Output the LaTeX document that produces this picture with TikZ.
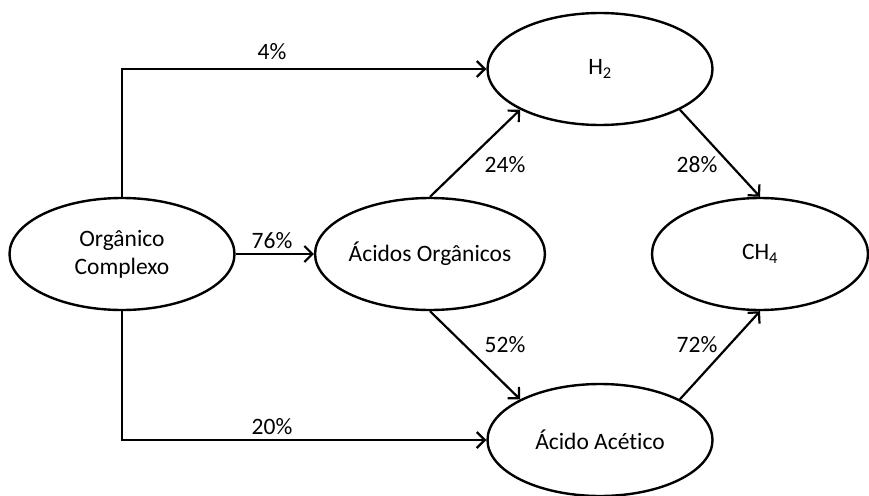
\documentclass[tikz,border=0pt]{standalone}
\usepackage{fontspec}
\setmainfont{Carlito}[Ligatures=NoCommon]
\usetikzlibrary{shapes.geometric,arrows.meta}
\begin{document}
\begin{tikzpicture}[x=1pt,y=-1pt,
  blob/.style={ellipse,draw,line width=2.4pt,inner sep=0pt,minimum width=225pt,minimum height=112pt,font=\fontsize{23.5}{28}\selectfont,align=center},
  flow/.style={line width=2.2pt,-{Straight Barb[length=8pt,width=16pt,line width=2.2pt]}},
  pct/.style={font=\fontsize{23.5}{28}\selectfont,inner sep=0pt}]
\useasboundingbox (0,0) rectangle (869,495);
\node[blob] (og) at (122,254) {Orgânico\\Complexo};
\node[blob,minimum width=228pt] (ac) at (430,254) {Ácidos Orgânicos};
\node[blob] (h2) at (600,69) {H\textsubscript{2}};
\node[blob,minimum width=216pt] (ch) at (760,254) {CH\textsubscript{4}};
\node[blob] (aa) at (600,440) {Ácido Acético};
\draw[flow] (og.north) |- (h2.west);
\draw[flow] (og.south) |- (aa.west);
\draw[flow] (og.east) -- (ac.west);
\draw[flow] (ac.north) -- (h2.207);
\draw[flow] (ac.south) -- (aa.153);
\draw[flow] (h2.333) -- (ch.north);
\draw[flow] (aa.27) -- (ch.south);
\node[pct] (p4) at (272,52) {4\%};
\node[pct] (p20) at (272,427) {20\%};
\node[pct] (p76) at (272,241) {76\%};
\node[pct] (p24) at (505,165) {24\%};
\node[pct] (p52) at (505,345) {52\%};
\node[pct] (p28) at (697,165) {28\%};
\node[pct] (p72) at (697,345) {72\%};
\end{tikzpicture}
\end{document}
